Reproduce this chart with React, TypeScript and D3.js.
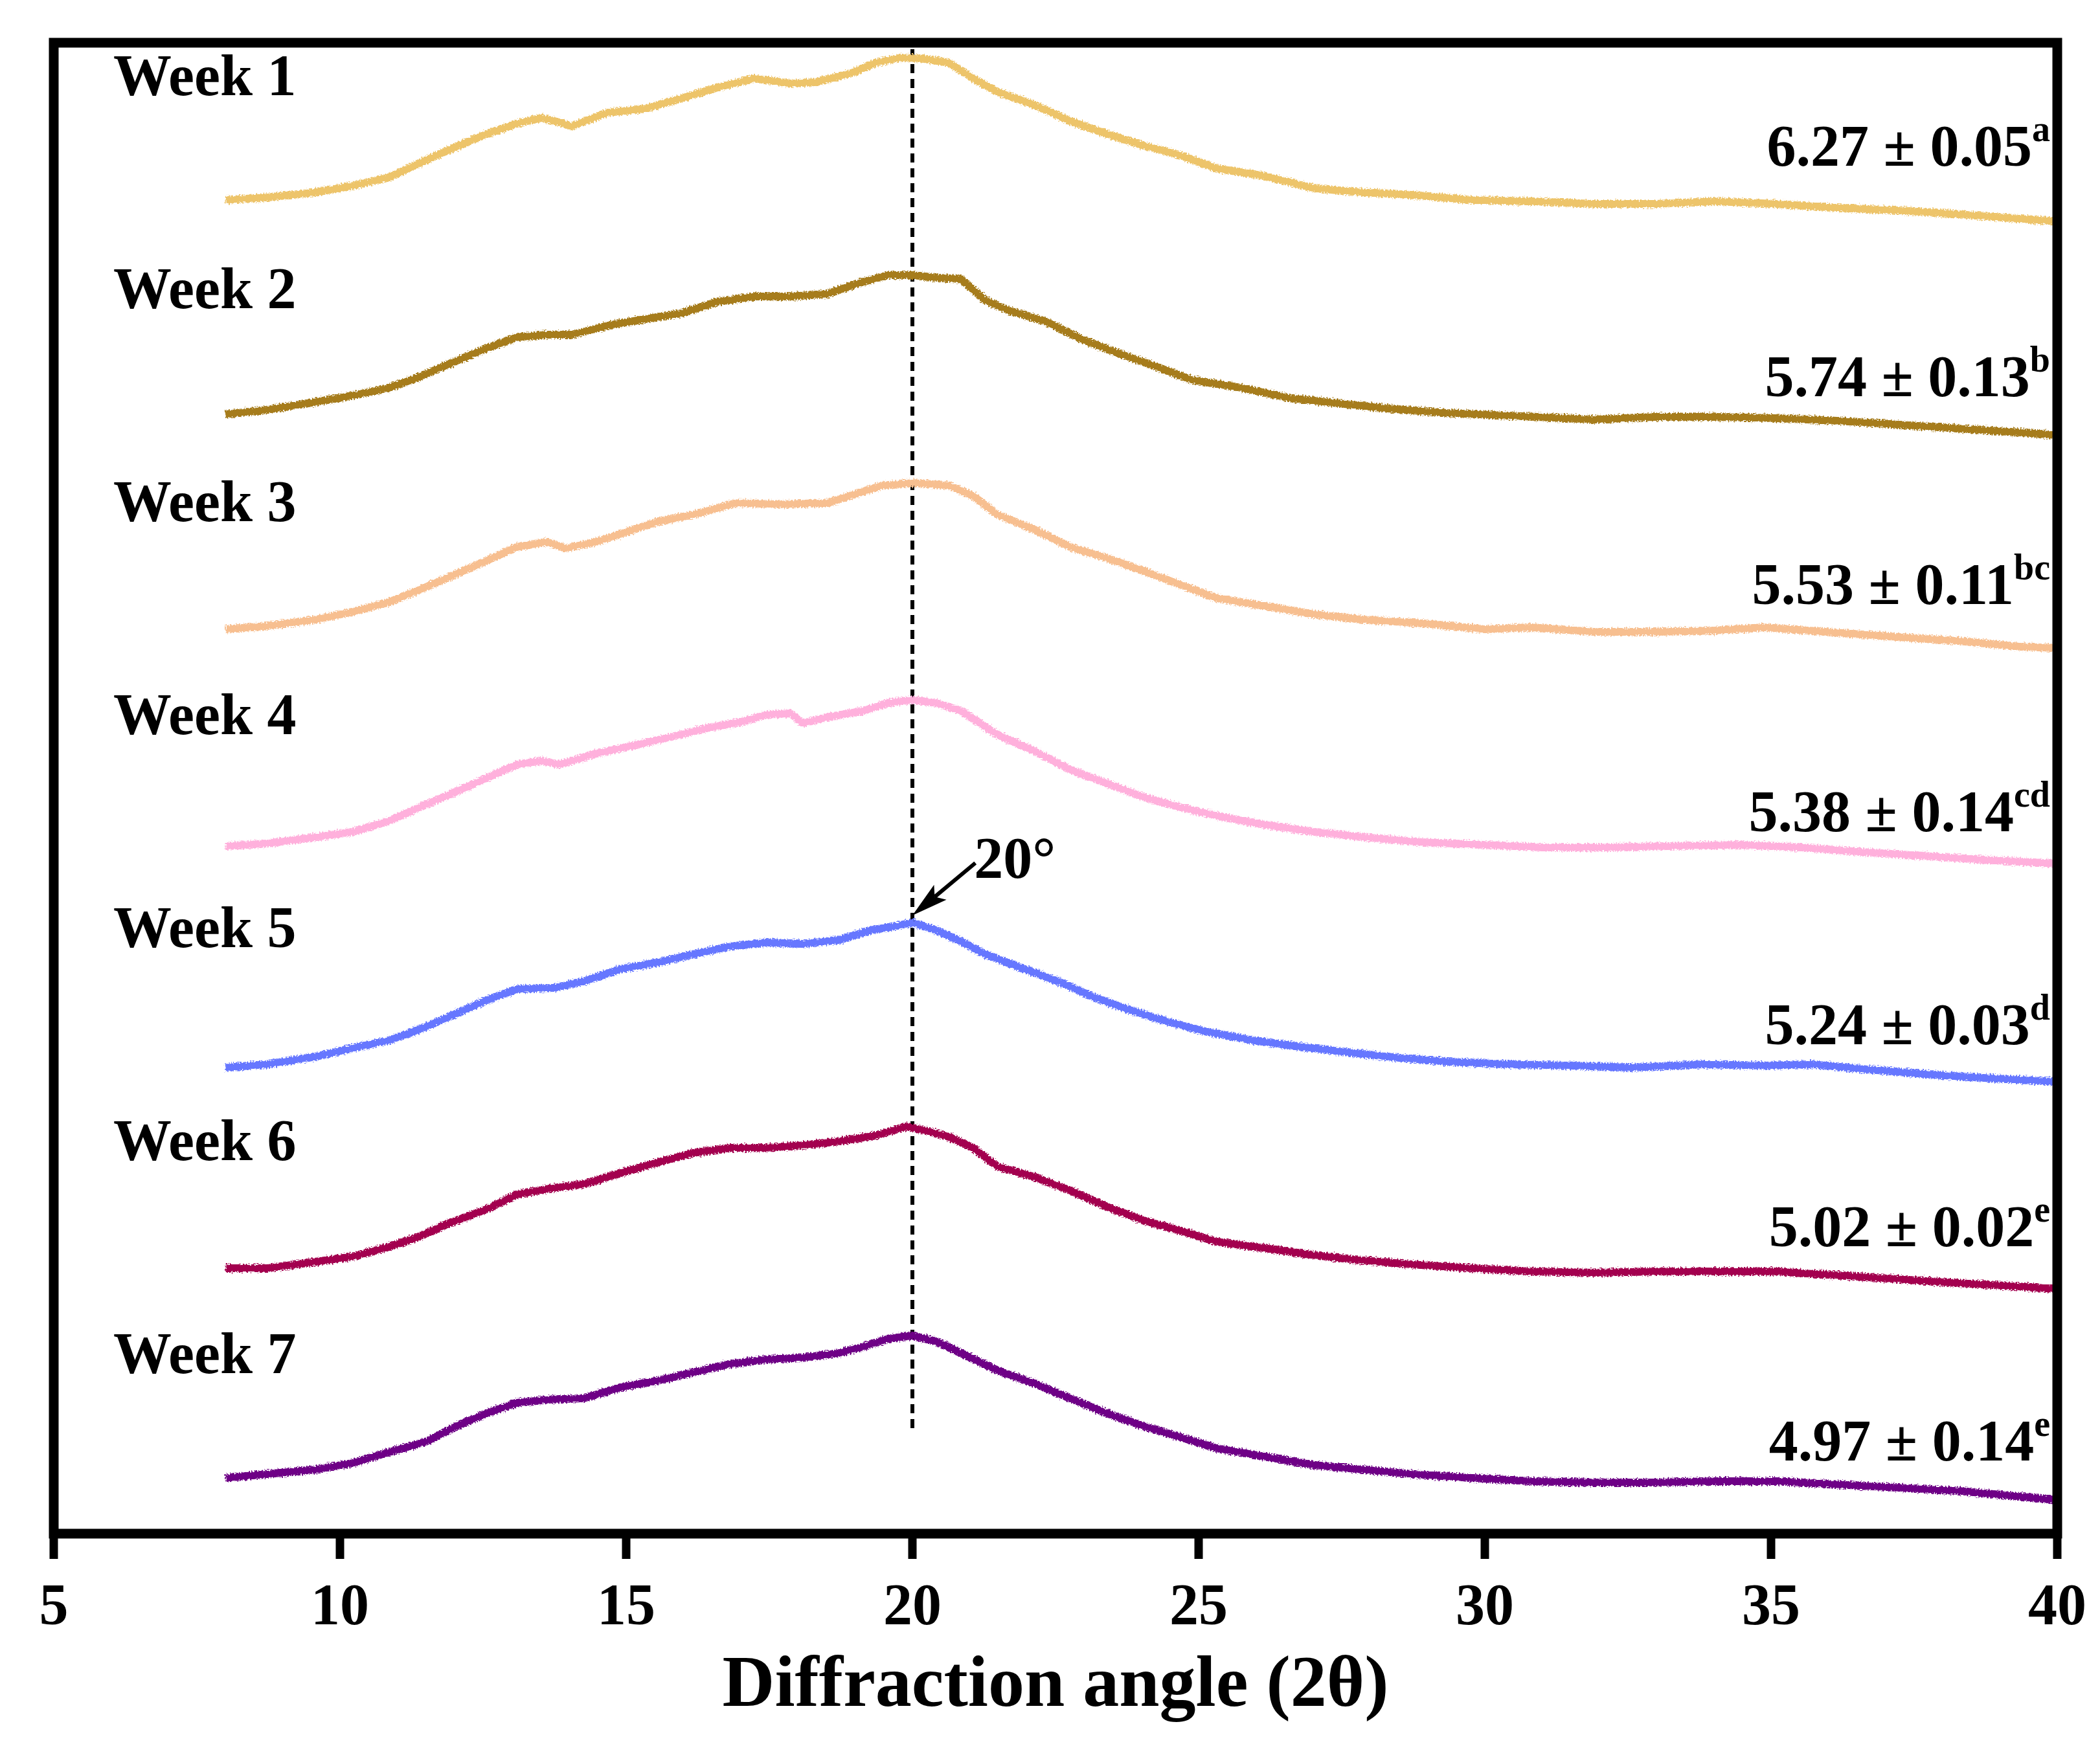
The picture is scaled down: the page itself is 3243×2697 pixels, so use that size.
import { useMemo } from "react";
import * as d3 from "d3";

// XRD patterns, stacked: [2θ, intensity (a.u.) above each pattern's offset]
const week1: [number, number][] = [
  [8.0, 60], [8.73, 64], [9.58, 72], [10.22, 82], [10.86, 95], [11.39, 117], [11.92, 138],
  [12.56, 162], [13.09, 178], [13.52, 187], [13.83, 180], [14.05, 174], [14.68, 195],
  [15.32, 201], [15.96, 217], [16.6, 234], [17.24, 248], [17.87, 240], [18.3, 242],
  [18.94, 256], [19.36, 272], [19.79, 280], [20.21, 278], [20.64, 272], [21.06, 248],
  [21.49, 227], [22.13, 207], [22.76, 182], [23.4, 162], [24.04, 144], [24.68, 129],
  [25.31, 109], [26.16, 97], [27.02, 78], [27.87, 72], [28.72, 68], [29.78, 60],
  [30.84, 58], [31.9, 54], [32.97, 54], [34.03, 58], [35.09, 54], [36.16, 48],
  [37.22, 44], [38.28, 38], [39.35, 31], [40.0, 27],
];
const week2: [number, number][] = [
  [8.0, 59], [8.73, 66], [9.58, 78], [10.22, 88], [10.86, 100], [11.39, 117], [11.92, 137],
  [12.56, 161], [13.09, 178], [13.62, 182], [14.05, 182], [14.68, 196], [15.32, 206],
  [15.96, 215], [16.6, 233], [17.24, 241], [17.87, 241], [18.51, 245], [19.04, 261],
  [19.57, 274], [20.0, 274], [20.42, 270], [20.85, 268], [21.27, 235], [21.7, 219],
  [22.34, 202], [22.98, 174], [23.61, 153], [24.25, 133], [24.89, 112], [25.74, 100],
  [26.59, 84], [27.44, 76], [28.29, 68], [29.35, 61], [30.42, 57], [31.9, 51],
  [32.97, 55], [34.03, 55], [35.09, 53], [36.16, 49], [37.22, 43], [38.28, 37],
  [39.35, 31], [40.0, 27],
];
const week3: [number, number][] = [
  [8.0, 57], [8.73, 62], [9.58, 72], [10.22, 84], [10.86, 99], [11.39, 118], [11.92, 138],
  [12.56, 163], [13.09, 184], [13.62, 192], [13.94, 182], [14.47, 192], [15.0, 207],
  [15.53, 223], [16.17, 234], [16.92, 252], [17.66, 250], [18.51, 252], [19.04, 267],
  [19.47, 279], [20.0, 283], [20.64, 279], [21.06, 263], [21.49, 234], [22.13, 211],
  [22.76, 184], [23.4, 167], [24.04, 147], [24.68, 126], [25.31, 105], [26.16, 93],
  [27.02, 80], [27.87, 72], [28.93, 66], [29.99, 57], [30.84, 60], [31.9, 53],
  [32.97, 53], [34.03, 55], [34.88, 60], [35.94, 53], [37.22, 45], [38.28, 39],
  [39.35, 30], [40.0, 28],
];
const week4: [number, number][] = [
  [8.0, 62], [8.73, 66], [9.58, 76], [10.22, 84], [10.86, 101], [11.39, 122], [11.92, 142],
  [12.56, 167], [13.09, 188], [13.52, 194], [13.83, 188], [14.47, 205], [15.11, 217],
  [15.75, 230], [16.39, 244], [17.02, 254], [17.45, 265], [17.87, 267], [18.09, 252],
  [18.51, 261], [19.15, 271], [19.57, 283], [20.0, 288], [20.42, 283], [20.85, 271],
  [21.49, 234], [22.13, 209], [22.76, 180], [23.4, 159], [24.04, 138], [24.68, 122],
  [25.31, 109], [26.16, 95], [27.02, 84], [27.87, 76], [28.93, 68], [29.99, 64],
  [31.05, 60], [32.12, 60], [33.18, 62], [34.46, 64], [35.52, 60], [36.58, 53],
  [37.65, 47], [38.71, 41], [40.0, 35],
];
const week5: [number, number][] = [
  [8.0, 60], [8.73, 65], [9.58, 77], [10.22, 90], [10.86, 102], [11.39, 119], [11.92, 139],
  [12.56, 164], [13.09, 181], [13.73, 183], [14.26, 193], [14.9, 212], [15.53, 222],
  [16.17, 235], [16.81, 247], [17.45, 253], [18.09, 251], [18.72, 257], [19.26, 272],
  [19.68, 278], [20.0, 284], [20.42, 272], [20.85, 255], [21.27, 235], [21.91, 214],
  [22.55, 193], [23.19, 168], [23.83, 148], [24.46, 131], [25.1, 116], [25.95, 102],
  [26.8, 92], [27.65, 83], [28.5, 75], [29.35, 69], [30.42, 65], [31.48, 63],
  [32.54, 60], [33.82, 65], [34.88, 63], [35.73, 65], [36.58, 58], [37.65, 50],
  [38.71, 44], [40.0, 38],
];
const week6: [number, number][] = [
  [8.0, 60], [8.73, 60], [9.58, 70], [10.22, 78], [10.86, 93], [11.39, 109], [11.92, 130],
  [12.56, 151], [13.09, 174], [13.73, 184], [14.26, 190], [14.9, 207], [15.53, 223],
  [16.17, 238], [16.81, 246], [17.45, 246], [18.09, 250], [18.72, 256], [19.36, 265],
  [19.89, 279], [20.21, 273], [20.64, 263], [21.06, 246], [21.49, 217], [22.13, 201],
  [22.76, 180], [23.4, 155], [24.04, 134], [24.68, 118], [25.31, 101], [26.16, 91],
  [27.02, 80], [27.87, 72], [28.72, 66], [29.78, 60], [30.84, 55], [31.9, 53],
  [32.97, 55], [34.03, 55], [35.09, 55], [36.16, 49], [37.22, 43], [38.28, 37],
  [40.0, 28],
];
const week7: [number, number][] = [
  [8.0, 56], [8.73, 62], [9.58, 69], [10.22, 79], [10.86, 96], [11.5, 112], [12.03, 136],
  [12.56, 156], [13.09, 172], [13.62, 177], [14.26, 179], [14.9, 196], [15.53, 206],
  [16.17, 219], [16.81, 232], [17.45, 239], [18.09, 242], [18.72, 249], [19.15, 259],
  [19.57, 271], [20.0, 276], [20.42, 267], [20.85, 249], [21.49, 222], [22.13, 202],
  [22.76, 179], [23.4, 156], [24.04, 136], [24.68, 119], [25.31, 102], [26.16, 89],
  [27.02, 76], [27.87, 69], [28.72, 62], [29.78, 56], [30.84, 51], [31.9, 49],
  [32.97, 49], [34.03, 51], [35.09, 51], [36.16, 46], [37.22, 41], [38.28, 36],
  [40.0, 22],
];

const PATTERNS = [week1, week2, week3, week4, week5, week6, week7];
const WEEKS = ["Week 1", "Week 2", "Week 3", "Week 4", "Week 5", "Week 6", "Week 7"];
const OFFSETS = [2000, 1670, 1340, 1000, 660, 350, 30];
const CRYSTALLINITY = ["6.27 ± 0.05", "5.74 ± 0.13", "5.53 ± 0.11", "5.38 ± 0.14", "5.24 ± 0.03", "5.02 ± 0.02", "4.97 ± 0.14"];
const LETTERS = ["a", "b", "bc", "cd", "d", "e", "e"];
const X_TICKS = [5, 10, 15, 20, 25, 30, 35, 40];
const PEAK = 20;

const COLORS = ["#edc46a", "#a67c1a", "#f7bf90", "#ffb0dc", "#6677ff", "#a3004f", "#6e0086"];

const W = 3243;
const H = 2697;
const LEFT = 83;
const RIGHT = 3177;
const TOP = 66;
const BOTTOM = 2369;
const FONT = "'Liberation Serif', 'Times New Roman', serif";
const GRADE_BASELINE = [256, 612, 933, 1284, 1613, 1925, 2256];

export default function App() {
  const x = d3.scaleLinear().domain([5, 40]).range([LEFT, RIGHT]);
  const y = d3.scaleLinear().domain([0, BOTTOM - TOP]).range([BOTTOM, TOP]);

  const paths = useMemo(() => {
    return PATTERNS.map((p, i) =>
      d3
        .line<[number, number]>()
        .x((d) => x(d[0]))
        .y((d) => y(d[1] + OFFSETS[i]))(p)
    );
  }, []);

  // arrow pointing at the week 5 maximum
  const w5peak = week5.find((d) => d[0] === PEAK)![1] + OFFSETS[4];
  const tip: [number, number] = [x(PEAK), y(w5peak + 11)];
  const tail: [number, number] = [x(PEAK + 1.1), y(w5peak + 92)];
  const ang = Math.atan2(tail[1] - tip[1], tail[0] - tip[0]);
  const hl = 56;
  const hw = 15;
  const bx = tip[0] + hl * Math.cos(ang);
  const by = tip[1] + hl * Math.sin(ang);
  const nx = tip[0] + hl * 0.8 * Math.cos(ang);
  const ny = tip[1] + hl * 0.8 * Math.sin(ang);
  const head = [
    tip,
    [bx - hw * Math.sin(ang), by + hw * Math.cos(ang)],
    [nx, ny],
    [bx + hw * Math.sin(ang), by - hw * Math.cos(ang)],
  ]
    .map((p) => p.join(","))
    .join(" ");

  return (
    <svg
      width={W}
      height={H}
      style={{ position: "absolute", left: 0, top: 0, background: "#fff" }}
      fontFamily={FONT}
      fontWeight="bold"
    >
      <defs>
        <filter id="rough" x="-2%" y="-20%" width="104%" height="140%">
          <feTurbulence type="fractalNoise" baseFrequency="0.45" numOctaves={1} seed={4} />
          <feDisplacementMap in="SourceGraphic" scale={9} xChannelSelector="R" yChannelSelector="G" />
        </filter>
      </defs>

      {/* drop line at 20° */}
      <line
        x1={x(PEAK)}
        x2={x(PEAK)}
        y1={y(2293)}
        y2={y(162)}
        stroke="#000"
        strokeWidth={6}
        strokeDasharray="14 9"
      />

      {paths.map((d, i) => (
        <path
          key={i}
          d={d!}
          fill="none"
          stroke={COLORS[i]}
          strokeWidth={12}
          strokeLinejoin="round"
          filter="url(#rough)"
        />
      ))}

      {WEEKS.map((w, i) => (
        <text key={w} x={LEFT + 92} y={TOP + 81 + i * 329} fontSize={90}>
          {w}
        </text>
      ))}

      {CRYSTALLINITY.map((c, i) => (
        <text key={i} x={RIGHT - 11} y={GRADE_BASELINE[i]} fontSize={90} textAnchor="end">
          {c}
          <tspan fontSize={56} dy={-38}>
            {LETTERS[i]}
          </tspan>
        </text>
      ))}

      {/* 20° annotation */}
      <line x1={tail[0]} y1={tail[1]} x2={nx} y2={ny} stroke="#000" strokeWidth={6} />
      <polygon points={head} fill="#000" />
      <text x={tail[0] - 2} y={y(w5peak + 69)} fontSize={90}>
        20°
      </text>

      {/* frame */}
      <rect
        x={LEFT}
        y={TOP}
        width={RIGHT - LEFT}
        height={BOTTOM - TOP}
        fill="none"
        stroke="#000"
        strokeWidth={15}
      />

      {X_TICKS.map((t) => (
        <g key={t} transform={`translate(${x(t)},0)`}>
          <line y1={BOTTOM} y2={BOTTOM + 39} stroke="#000" strokeWidth={13} />
          <text y={2509} textAnchor="middle" fontSize={90}>
            {t}
          </text>
        </g>
      ))}

      <text x={(LEFT + RIGHT) / 2} y={2635} textAnchor="middle" fontSize={112}>
        Diffraction angle (2θ)
      </text>
    </svg>
  );
}
